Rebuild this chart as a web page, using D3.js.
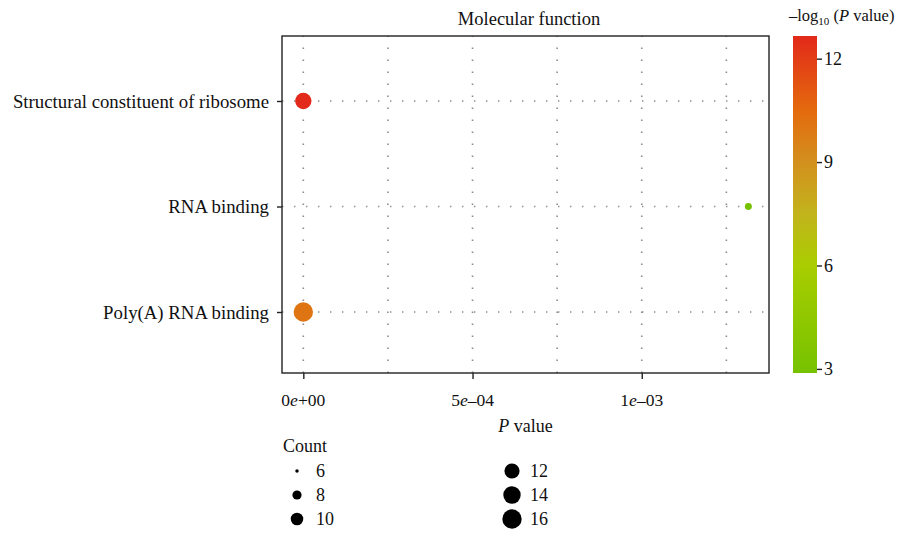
<!DOCTYPE html>
<html>
<head>
<meta charset="utf-8">
<script src="https://cdn.jsdelivr.net/npm/d3@7"></script>
<style>
  body { margin: 0; background: #fff; }
  svg { font-family: "Liberation Serif", "DejaVu Serif", serif; }
</style>
</head>
<body>
<svg id="chart" width="909" height="533"></svg>
<script>
// Data
const terms = ["Structural constituent of ribosome", "RNA binding", "Poly(A) RNA binding"];
const pValues = [2.2e-13, 1.315e-3, 8e-11];
const counts = [13, 7, 16];

const xTicks = [0, 5e-4, 1e-3];
const xTickLabels = [["0", "+00"], ["5", "\u201304"], ["1", "\u201303"]];
const xMinor = [2.5e-4, 7.5e-4, 1.25e-3];
const colorTicks = [3, 6, 9, 12];
const sizeBreaks = [6, 8, 10, 12, 14, 16];

// gradient colours sampled from the reference colour bar (bottom to top)
const gradStops = [0, 0.32, 0.47, 0.625, 0.78, 1];
const gradColors = ["#76c200", "#a9cd00", "#c2b41c", "#d3901e", "#e46a0d", "#e2291a"];

const svg = d3.select("#chart");

// Panel
const panel = { left: 282, right: 769, top: 36, bottom: 373 };

const x = d3.scaleLinear()
    .domain([-0.063e-3, 1.376e-3])
    .range([panel.left, panel.right]);

const y = d3.scalePoint()
    .domain(terms)
    .range([101, 312]);

const logP = pValues.map(p => -Math.log10(p));
const cMin = d3.min(logP), cMax = d3.max(logP);

const colorInterp = d3.scaleLinear().domain(gradStops).range(gradColors).interpolate(d3.interpolateRgb);
const color = v => colorInterp((v - cMin) / (cMax - cMin));

// area-proportional size
const areaScale = d3.scaleLinear().domain([6, 16]).range([3, 94]);
const radius = c => Math.sqrt(areaScale(c));

// Grid lines (dotted)
const grid = svg.append("g")
    .attr("stroke", "#8c8c8c")
    .attr("stroke-width", 1.6)
    .attr("stroke-dasharray", "1.4,10.6");

grid.selectAll("line.v")
    .data(xTicks.concat(xMinor))
    .join("line")
    .attr("x1", d => x(d)).attr("x2", d => x(d))
    .attr("y1", panel.bottom).attr("y2", panel.top);

grid.selectAll("line.h")
    .data(terms)
    .join("line")
    .attr("x1", panel.left).attr("x2", panel.right)
    .attr("y1", d => y(d)).attr("y2", d => y(d));

// Points
svg.append("g")
    .selectAll("circle")
    .data(terms.map((t, i) => ({ term: t, p: pValues[i], count: counts[i], lp: logP[i] })))
    .join("circle")
    .attr("cx", d => x(d.p))
    .attr("cy", d => y(d.term))
    .attr("r", d => radius(d.count))
    .attr("fill", d => color(d.lp));

// Panel border
svg.append("rect")
    .attr("x", panel.left).attr("y", panel.top)
    .attr("width", panel.right - panel.left)
    .attr("height", panel.bottom - panel.top)
    .attr("fill", "none")
    .attr("stroke", "#222")
    .attr("stroke-width", 1.4);

// Y axis
const yAxis = svg.append("g")
    .attr("transform", `translate(${panel.left},0)`)
    .call(d3.axisLeft(y).tickSize(5).tickPadding(8));
yAxis.select(".domain").remove();
yAxis.selectAll(".tick line").attr("stroke", "#222").attr("stroke-width", 1.4);
yAxis.selectAll(".tick text")
    .attr("font-size", 18.8)
    .attr("font-family", "Liberation Serif, serif")
    .attr("fill", "#111");

// X axis
const xAxis = svg.append("g")
    .attr("transform", `translate(0,${panel.bottom})`)
    .call(d3.axisBottom(x).tickValues(xTicks).tickSize(6).tickFormat(""));
xAxis.select(".domain").remove();
xAxis.selectAll(".tick line").attr("stroke", "#222").attr("stroke-width", 1.4);

const xLab = svg.append("g").selectAll("text")
    .data(xTicks)
    .join("text")
    .attr("x", d => x(d))
    .attr("y", 406)
    .attr("text-anchor", "middle")
    .attr("font-size", 17.5)
    .attr("fill", "#111");
xLab.each(function(d, i) {
    const t = d3.select(this);
    t.append("tspan").text(xTickLabels[i][0]);
    t.append("tspan").attr("font-style", "italic").text("e");
    t.append("tspan").text(xTickLabels[i][1]);
});

const xTitle = svg.append("text")
    .attr("x", (panel.left + panel.right) / 2)
    .attr("y", 432)
    .attr("text-anchor", "middle")
    .attr("font-size", 18)
    .attr("fill", "#111");
xTitle.append("tspan").attr("font-style", "italic").text("P");
xTitle.append("tspan").text(" value");

// Title
svg.append("text")
    .attr("x", 529)
    .attr("y", 25)
    .attr("text-anchor", "middle")
    .attr("font-size", 18.5)
    .attr("fill", "#111")
    .text("Molecular function");

// Colour bar
const bar = { x: 793, w: 24, top: 36, bottom: 373 };
const defs = svg.append("defs");
const grad = defs.append("linearGradient")
    .attr("id", "cbar")
    .attr("x1", 0).attr("y1", 1).attr("x2", 0).attr("y2", 0);
gradStops.forEach((t, i) => {
    grad.append("stop")
        .attr("offset", t)
        .attr("stop-color", gradColors[i]);
});
svg.append("rect")
    .attr("x", bar.x).attr("y", bar.top)
    .attr("width", bar.w).attr("height", bar.bottom - bar.top)
    .attr("fill", "url(#cbar)");

const cy = d3.scaleLinear().domain([cMin, cMax]).range([bar.bottom, bar.top]);
const cAxis = svg.append("g")
    .attr("transform", `translate(${bar.x + bar.w},0)`)
    .call(d3.axisRight(cy).tickValues(colorTicks).tickSize(5).tickPadding(2));
cAxis.select(".domain").remove();
cAxis.selectAll(".tick line").attr("stroke", "#222").attr("stroke-width", 1.4);
cAxis.selectAll(".tick text")
    .attr("font-size", 18)
    .attr("font-family", "Liberation Serif, serif")
    .attr("fill", "#111");

const cTitle = svg.append("text")
    .attr("x", 789)
    .attr("y", 21)
    .attr("font-size", 16.5)
    .attr("fill", "#111");
cTitle.append("tspan").text("\u2013log");
cTitle.append("tspan").attr("font-size", 11).attr("dy", 4).text("10");
cTitle.append("tspan").attr("dy", -4).text(" (");
cTitle.append("tspan").attr("font-style", "italic").text("P");
cTitle.append("tspan").text(" value)");

// Size legend
svg.append("text")
    .attr("x", 283)
    .attr("y", 452)
    .attr("font-size", 18)
    .attr("fill", "#111")
    .text("Count");

const legendCols = [{ cx: 297, tx: 316 }, { cx: 512, tx: 530 }];
const legendRows = [471, 495, 519];
const sizeLegend = svg.append("g").selectAll("g")
    .data(sizeBreaks)
    .join("g")
    .attr("transform", (d, i) => `translate(0,${legendRows[i % 3]})`);
sizeLegend.append("circle")
    .attr("cx", (d, i) => legendCols[Math.floor(i / 3)].cx)
    .attr("r", d => radius(d))
    .attr("fill", "#000");
sizeLegend.append("text")
    .attr("x", (d, i) => legendCols[Math.floor(i / 3)].tx)
    .attr("y", 6)
    .attr("font-size", 18)
    .attr("fill", "#111")
    .text(d => d);
</script>
</body>
</html>
